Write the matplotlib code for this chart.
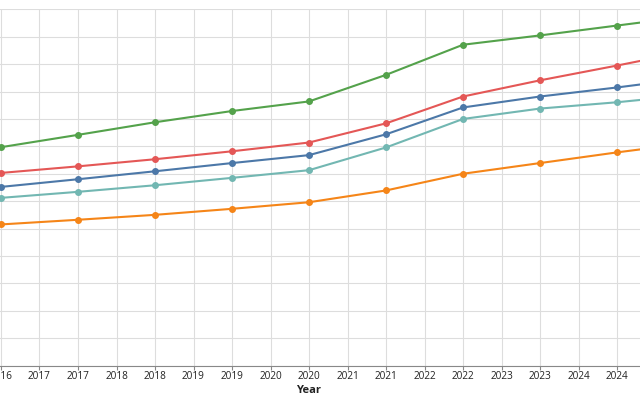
import math
import matplotlib
matplotlib.use("Agg")
import matplotlib.pyplot as plt

plt.rcParams['font.family'] = ['Open Sans', 'DejaVu Sans']

# data (y axis is cut off in the reference, values are in gridline units x10)
years = [2016, 2017, 2018, 2019, 2020, 2021, 2022, 2023, 2024, 2025]
series_a = [65.2, 68.0, 70.9, 73.9, 76.8, 84.4, 94.2, 98.2, 101.5, 105.1]   # blue
series_b = [51.5, 53.2, 55.0, 57.2, 59.6, 63.9, 70.0, 73.9, 77.8, 81.4]    # orange
series_c = [70.3, 72.7, 75.3, 78.2, 81.4, 88.4, 98.2, 104.1, 109.5, 115.1] # red
series_d = [61.2, 63.4, 65.8, 68.5, 71.3, 79.6, 90.0, 93.8, 96.1, 98.9]    # teal
series_e = [79.7, 84.2, 88.8, 92.9, 96.4, 106.1, 117.1, 120.5, 124.1, 127.7] # green

colors = ['#4c78a8', '#f58518', '#e45756', '#72b7b2', '#54a24b']
all_series = [series_a, series_b, series_c, series_d, series_e]

fig = plt.figure(figsize=(6.4, 4.0), dpi=100)
ax = fig.add_axes([0, 0.08625, 1, 0.89025])

for vals, c in zip(all_series, colors):
    ax.plot(years, vals, color=c, lw=1.5, marker='o', ms=4, mec=c, mfc=c,
            zorder=3, clip_on=True)

# half-year ticks, labelled with the rounded-up year (as in the original)
ticks = [2016 + 0.5 * k for k in range(18)]
ax.set_xticks(ticks)
ax.set_xticklabels([str(math.ceil(t)) for t in ticks])
ax.set_xlim(2016 - 1 / 77, 2016 + 639 / 77)

ax.set_yticks(range(0, 131, 10))
ax.set_ylim(0, 130)
ax.tick_params(axis='y', left=False, labelleft=False)
ax.tick_params(axis='x', length=3, width=0.8, color='#888888', pad=1,
               labelsize=7.2, labelcolor='#222222')

ax.grid(True, color='#dddddd', lw=0.8, zorder=0)
ax.set_axisbelow(True)
for s in ['left', 'right', 'top']:
    ax.spines[s].set_visible(False)
ax.spines['bottom'].set_color('#888888')
ax.spines['bottom'].set_linewidth(0.8)

fig.text(309 / 640, 1 - 390.7 / 400, 'Year', ha='center', va='center',
         fontsize=8, fontweight='bold', color='#222222')

fig.savefig('out.png', dpi=100)
